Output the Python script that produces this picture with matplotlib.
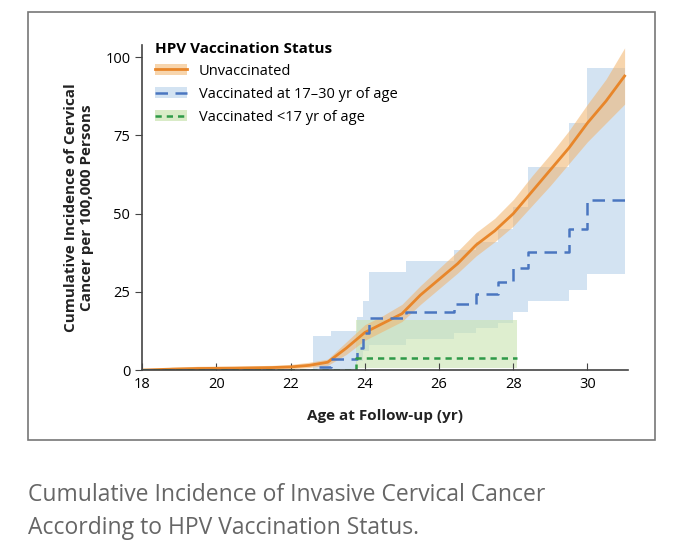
import matplotlib
matplotlib.use("Agg")
import matplotlib.pyplot as plt
from matplotlib.patches import Rectangle, Patch
from matplotlib.lines import Line2D

plt.rcParams['font.family'] = ['Open Sans', 'DejaVu Sans']

# Unvaccinated (smooth curve)
unv_age = [18.0, 18.8, 19.5, 20.5, 21.5, 22.0, 22.5, 23.0, 23.5, 24.0, 24.5, 25.0, 25.5, 26.0, 26.5, 27.0, 27.5, 28.0, 28.5, 29.0, 29.5, 30.0, 30.5, 31.0]
unv_val = [0.0, 0.3, 0.5, 0.6, 0.8, 1.0, 1.5, 2.5, 7.0, 12.0, 15.0, 18.0, 24.0, 29.0, 34.0, 40.0, 44.5, 50.0, 57.0, 64.0, 71.0, 79.0, 86.0, 94.0]
unv_lo  = [0.0, 0.0, 0.1, 0.2, 0.3, 0.4, 0.8, 1.5, 5.0, 9.5, 12.5, 15.5, 21.0, 26.0, 31.0, 36.5, 41.0, 46.0, 52.5, 59.0, 66.0, 73.0, 79.0, 85.0]
unv_hi  = [0.0, 0.9, 1.2, 1.3, 1.5, 1.8, 2.5, 3.5, 9.0, 14.5, 17.5, 21.0, 27.0, 32.5, 38.0, 44.0, 48.5, 54.5, 62.0, 69.0, 76.5, 85.0, 93.0, 103.0]

# Vaccinated at 17-30 yr (step)
v17_age = [18.0, 22.6, 23.1, 23.8, 23.95, 24.1, 25.1, 26.4, 27.0, 27.6, 28.0, 28.4, 29.5, 30.0, 31.0]
v17_val = [0.0, 1.0, 3.5, 7.0, 12.0, 16.5, 18.7, 21.0, 24.2, 28.0, 32.6, 37.6, 45.0, 54.3, 54.3]
v17_lo  = [0.0, 0.0, 0.0, 3.0, 6.0, 8.0, 10.0, 12.0, 13.5, 15.0, 18.7, 22.0, 25.6, 30.7, 30.7]
v17_hi  = [0.0, 11.0, 12.5, 17.0, 22.0, 31.5, 35.0, 38.5, 41.0, 45.0, 52.0, 65.0, 79.0, 96.4, 96.4]

# Vaccinated <17 yr (step)
v16_age = [18.0, 23.75, 28.1]
v16_val = [0.0, 4.0, 4.0]
v16_lo  = [0.0, 0.5, 0.5]
v16_hi  = [0.0, 16.0, 16.0]

fig = plt.figure(figsize=(6.8, 5.59), dpi=100)
fig.patches.append(Rectangle((28/680, 1-440/559), 627/680, 428/559, transform=fig.transFigure,
                             fill=False, edgecolor='#777777', lw=1.2))
ax = fig.add_axes([0.209, 0.338, 0.715, 0.582])

orange = '#e8862a'; blue = '#4a76c0'; green = '#2e9a48'
ax.fill_between(v17_age, v17_lo, v17_hi, step='post', color='#a9c9e6', alpha=0.5, lw=0)
ax.fill_between(v16_age, v16_lo, v16_hi, step='post', color='#c9e3b0', alpha=0.6, lw=0)
ax.fill_between(unv_age, unv_lo, unv_hi, color='#f2b36b', alpha=0.55, lw=0)
ax.plot(unv_age, unv_val, color=orange, lw=2)
ax.step(v17_age, v17_val, where='post', color=blue, lw=1.8, dashes=(5, 3))
ax.step(v16_age, v16_val, where='post', color=green, lw=1.8, dashes=(2.5, 2))

ax.set_xlim(18, 31.1)
ax.set_ylim(0, 104)
ax.set_xticks([18, 20, 22, 24, 26, 28, 30])
ax.set_yticks([0, 25, 50, 75, 100])
ax.spines['top'].set_visible(False); ax.spines['right'].set_visible(False)
for s in ['left', 'bottom']:
    ax.spines[s].set_color('#444444'); ax.spines[s].set_linewidth(1.2)
ax.tick_params(axis='x', direction='in', length=5, labelsize=10.5, color='#444444', pad=5)
ax.tick_params(axis='y', direction='out', length=5, labelsize=10.5, color='#444444')
ax.set_xlabel('Age at Follow-up (yr)', fontsize=11, fontweight='bold', color='#222222', labelpad=12)
ax.set_ylabel('Cumulative Incidence of Cervical\nCancer per 100,000 Persons', fontsize=11,
              fontweight='bold', color='#222222', labelpad=8)

handles = [(Patch(color='#f2b36b', alpha=0.55, lw=0), Line2D([], [], color=orange, lw=2)),
           (Patch(color='#a9c9e6', alpha=0.5, lw=0), Line2D([], [], color=blue, lw=1.8, dashes=(5, 3))),
           (Patch(color='#c9e3b0', alpha=0.7, lw=0), Line2D([], [], color=green, lw=1.8, dashes=(2.5, 2)))]
labels = ['Unvaccinated', 'Vaccinated at 17–30 yr of age', 'Vaccinated <17 yr of age']
leg = ax.legend(handles, labels, loc='upper left', bbox_to_anchor=(0.0, 1.05), frameon=False,
                title='HPV Vaccination Status', fontsize=10.5, handlelength=2.2, labelspacing=0.55,
                title_fontproperties={'weight': 'bold', 'size': 11})
leg._legend_box.align = 'left'

fig.text(28/680, 1-495/559, 'Cumulative Incidence of Invasive Cervical Cancer', fontsize=16.5,
         color='#666666', va='center')
fig.text(28/680, 1-528/559, 'According to HPV Vaccination Status.', fontsize=16.5,
         color='#666666', va='center')

fig.savefig('out.png', dpi=100, facecolor='white')
